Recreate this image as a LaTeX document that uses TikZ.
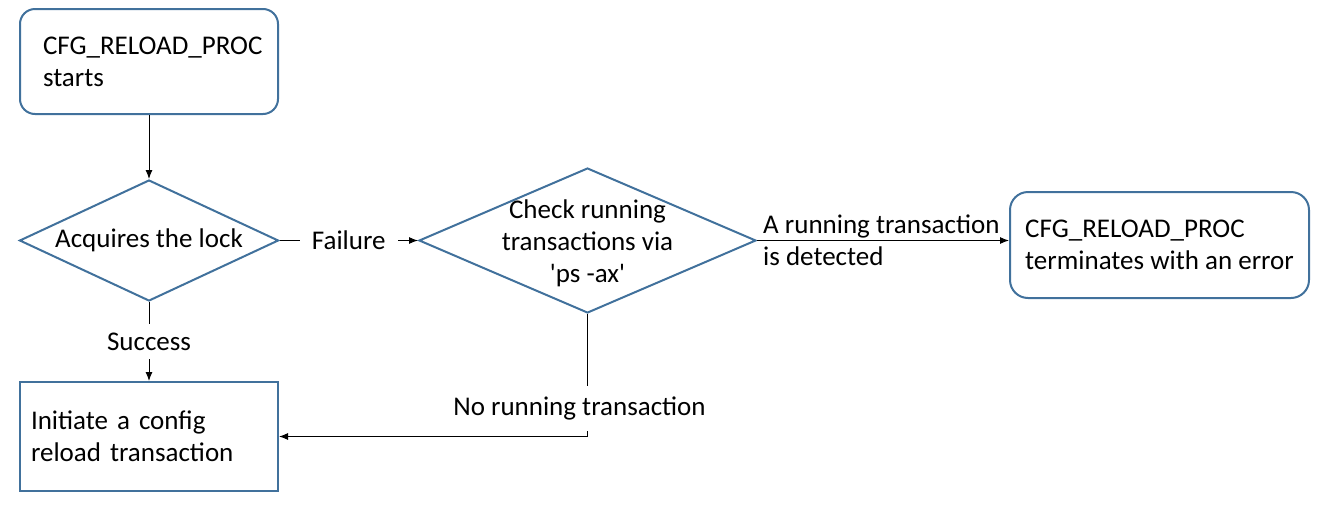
\documentclass[tikz,border=0pt]{standalone}
\usepackage{fontspec}
\setmainfont{Carlito}
\usetikzlibrary{shapes.geometric,arrows.meta}
\definecolor{outl}{RGB}{65,113,156}
\begin{document}
\begin{tikzpicture}[x=1pt,y=-1pt,
  every node/.style={font=\fontsize{27}{32}\selectfont},
  rbox/.style={draw=outl, line width=2pt, rounded corners=15pt, align=left, inner ysep=0pt},
  sbox/.style={draw=outl, line width=2pt, align=left, inner ysep=0pt},
  dia/.style={draw=outl, line width=2pt, diamond, inner sep=0pt},
  arr/.style={draw=black, line width=1pt, -{Latex[length=9pt,width=7pt]}},
  lbl/.style={fill=white, inner xsep=12pt, inner ysep=9pt}
]
\useasboundingbox (0,0) rectangle (1323,504);
\node[rbox, minimum width=258pt, minimum height=105pt, text width=212pt, inner xsep=23pt] (start) at (149,61.5) {CFG\_RELOAD\_PROC\\starts};
\node[dia, minimum width=259pt, minimum height=121pt, label={center:Acquires the lock}] (d1) at (149,240.5) {};
\node[dia, minimum width=337pt, minimum height=145pt, label={[align=center, yshift=-3pt]center:Check running\\transactions via\\\textquotesingle ps -ax\textquotesingle}] (d2) at (587.5,240.5) {};
\node[rbox, rounded corners=18pt, minimum width=299pt, minimum height=106pt, inner xsep=13pt] (fin) at (1159.5,245) {CFG\_RELOAD\_PROC\\terminates with an error};
\node[sbox, minimum width=258pt, minimum height=109pt, text width=236pt, inner xsep=11pt] (init) at (149,436.5) {Initiate a config\\reload transaction};
\node[anchor=west, align=left, inner sep=6pt] (lab) at (d2.east) {A running transaction\\is detected};
\coordinate (c) at (d2.south |- init.east);
\draw[arr] (start) -- (d1);
\draw[arr] (d1) -- node[lbl]{Failure} (d2);
\draw[arr] (d1) -- node[lbl]{Success} (init);
\draw[arr] (d2.south) -- node[lbl, pos=0.77, inner ysep=11pt, xshift=-8pt]{No running transaction} (c) -- (init.east);
\draw[arr] (d2.east) -- (d2.east -| fin.west);
\end{tikzpicture}
\end{document}
